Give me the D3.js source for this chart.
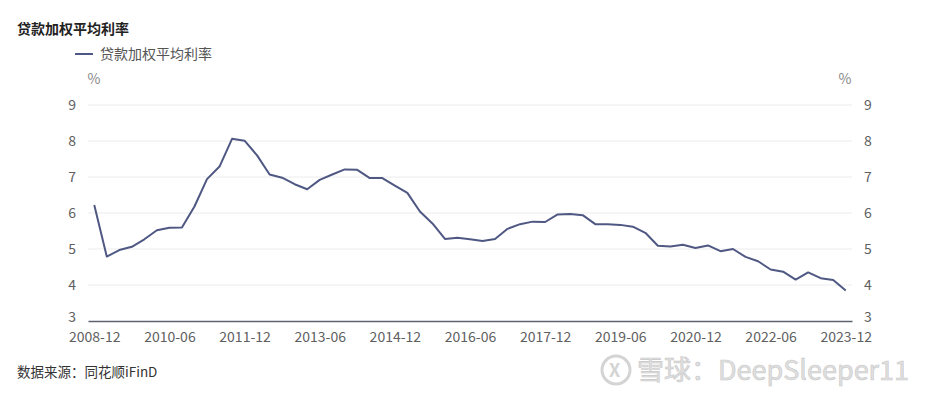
<!DOCTYPE html>
<html><head><meta charset="utf-8">
<script src="https://cdn.jsdelivr.net/npm/d3@7/dist/d3.min.js"></script>
<style>
html,body{margin:0;padding:0;background:#fff;}
svg{display:block;font-family:"Noto Sans CJK SC","Microsoft YaHei",sans-serif;}
</style></head><body>
<svg id="c" width="940" height="398"></svg>
<script>
const title = "贷款加权平均利率";
const seriesName = "贷款加权平均利率";
const source = "数据来源：同花顺iFinD";
const watermark = "雪球：DeepSleeper11";
const yTicks = [3,4,5,6,7,8,9];
// quarterly from 2008-12 to 2023-12
const quarters = [];
for (let y = 2008; y <= 2023; y++) for (const m of ["03","06","09","12"]) {
  const q = y + "-" + m; if (q >= "2008-12") quarters.push(q);
}
const values = [
  6.22,4.79,4.97,5.06,5.27,5.52,5.59,5.60,6.18,6.94,
  7.29,8.06,8.01,7.60,7.07,6.98,6.80,6.66,6.92,7.07,
  7.21,7.20,6.97,6.97,6.76,6.56,6.04,5.71,5.28,5.31,
  5.27,5.22,5.28,5.56,5.69,5.76,5.75,5.96,5.97,5.94,
  5.69,5.69,5.67,5.62,5.45,5.09,5.07,5.12,5.03,5.10,
  4.94,5.00,4.78,4.66,4.43,4.37,4.15,4.35,4.19,4.14,
  3.85
];
const xTickLabels = ["2008-12","2010-06","2011-12","2013-06","2014-12","2016-06","2017-12","2019-06","2020-12","2022-06","2023-12"];

const svg = d3.select("#c");
const L = 88, R = 852, T = 105, B = 321;
const x = d3.scalePoint().domain(quarters).range([L, R]).padding(0.5);
const y = d3.scaleLinear().domain([3, 9]).range([B, T]);

const txtCol = "#5f5f5f", lineCol = "#4f5883";
const fam = "'Noto Sans CJK SC',sans-serif";

// gridlines
svg.append("g").selectAll("line").data(yTicks.filter(d => d > 3)).join("line")
  .attr("x1", L).attr("x2", R).attr("y1", d => y(d)).attr("y2", d => y(d))
  .attr("stroke", "#ececec").attr("stroke-width", 1);

function styleY(g) {
  g.select(".domain").remove();
  g.selectAll("text").attr("fill", txtCol).style("font-size", "14px").style("font-family", fam)
    .attr("dy", d => d === 3 ? "0.02em" : "0.32em");
}
svg.append("g").attr("transform", `translate(${L},0)`)
  .call(d3.axisLeft(y).tickValues(yTicks).tickFormat(d3.format("d")).tickSize(0).tickPadding(12)).call(styleY);
svg.append("g").attr("transform", `translate(${R},0)`)
  .call(d3.axisRight(y).tickValues(yTicks).tickFormat(d3.format("d")).tickSize(0).tickPadding(12)).call(styleY);

// x axis
const xa = svg.append("g").attr("transform", `translate(0,${B})`)
  .call(d3.axisBottom(x).tickValues(xTickLabels).tickSize(0).tickPadding(11));
xa.select(".domain").attr("stroke", "#5b646e").attr("stroke-width", 1.3);
xa.selectAll("text").attr("fill", txtCol).style("font-size", "14px").style("font-family", fam);

// units
svg.append("text").attr("x", 94).attr("y", 84).attr("text-anchor", "middle").attr("fill", "#888").style("font-size", "14px").text("%");
svg.append("text").attr("x", 845).attr("y", 84).attr("text-anchor", "middle").attr("fill", "#888").style("font-size", "14px").text("%");

// line
svg.append("path").datum(values)
  .attr("d", d3.line().x((d, i) => x(quarters[i])).y(d => y(d)))
  .attr("fill", "none").attr("stroke", lineCol).attr("stroke-width", 2).attr("stroke-linejoin", "round");

// title
svg.append("text").attr("x", 17).attr("y", 34).attr("fill", "#222").style("font-size", "14px").style("font-weight", "bold").text(title);
// legend
svg.append("line").attr("x1", 75).attr("x2", 93).attr("y1", 54).attr("y2", 54).attr("stroke", lineCol).attr("stroke-width", 2);
svg.append("text").attr("x", 100).attr("y", 59).attr("fill", "#555").style("font-size", "14px").text(seriesName);
// source
svg.append("text").attr("x", 17).attr("y", 377).attr("fill", "#333").style("font-size", "13.5px").text(source);

// watermark
const wm = svg.append("g");
wm.append("circle").attr("cx", 616).attr("cy", 370).attr("r", 14).attr("fill", "none").attr("stroke", "#d4d4d4").attr("stroke-width", 3);
wm.append("text").attr("x", 609).attr("y", 377).attr("fill", "#d4d4d4").style("font-size", "18px").style("font-weight", "bold").text("X");
wm.append("text").attr("x", 637).attr("y", 380).attr("fill", "#e0e0e0").attr("stroke", "#c8c8c8").attr("stroke-width", 0.6)
  .style("font-size", "27px").style("font-family", fam).text(watermark);
</script>
</body></html>
